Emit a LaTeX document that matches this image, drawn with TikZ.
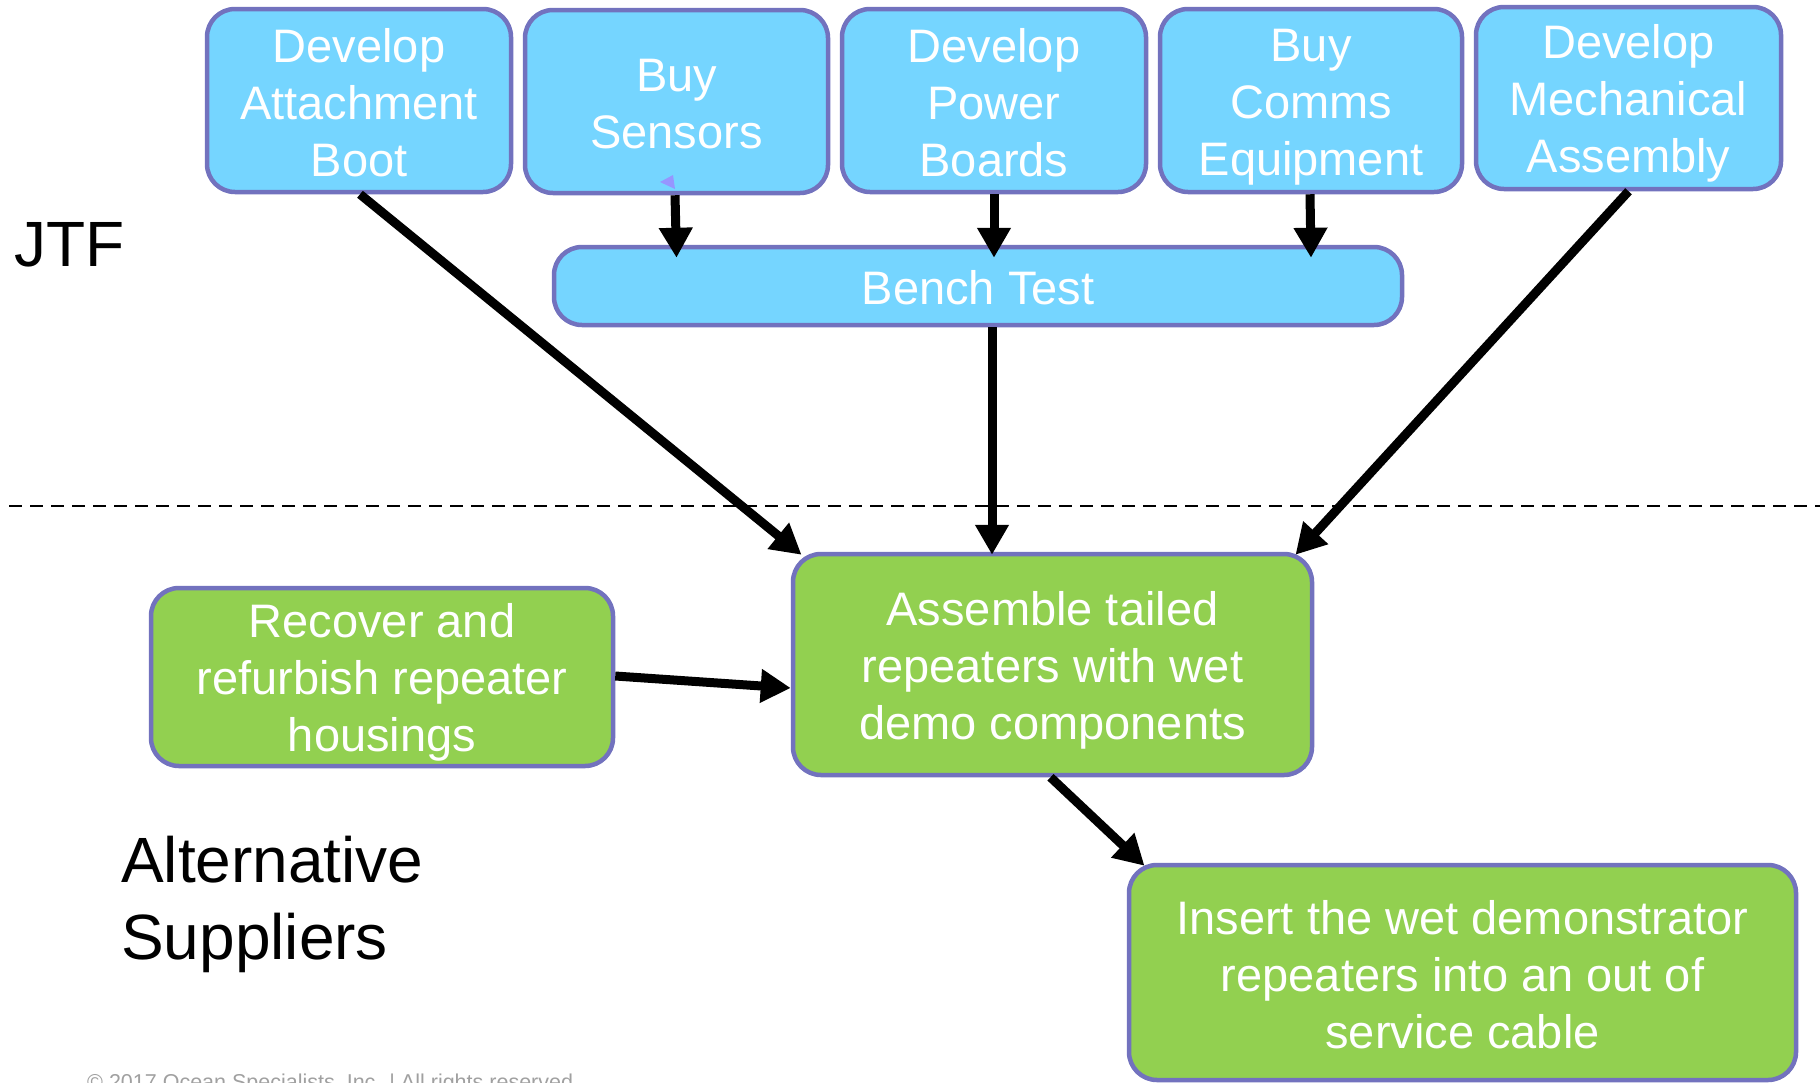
\documentclass[tikz,border=0pt]{standalone}
\usepackage{fontspec}
\setmainfont{Liberation Sans}
\usetikzlibrary{arrows.meta}
\definecolor{taskblue}{RGB}{117,213,255}
\definecolor{taskgreen}{RGB}{146,208,80}
\definecolor{taskedge}{RGB}{114,114,190}
\definecolor{notegrey}{RGB}{160,160,160}
% struts that fix the height of the first and the depth of the last text line
\newcommand\tskTop{\rule{0pt}{45pt}}
\newcommand\tskBot{\rule[-8pt]{0pt}{8pt}}
\tikzset{
  task/.style={draw=taskedge, line width=4.5pt, rounded corners=28pt,
    text=white, align=center, inner sep=0pt,
    font=\fontsize{47}{57}\selectfont},
  jtftask/.style={task, fill=taskblue},
  suptask/.style={task, fill=taskgreen},
  flow/.style={line width=9pt, -{Triangle[width=32pt,length=30pt]}},
  zone/.style={font=\fontsize{64}{77}\selectfont, align=left, anchor=base west, inner sep=0pt}
}
\begin{document}
\begin{tikzpicture}[x=1pt,y=-1pt]
  \useasboundingbox (0,0) rectangle (1820,1082);
  \clip (0,0) rectangle (1820,1082);

  % upper row of JTF tasks
  \node[jtftask, minimum width=304pt, minimum height=183pt] (boot) at (359,100.5)
    {\tskTop Develop\\Attachment\\Boot\tskBot};
  \node[jtftask, minimum width=303pt, minimum height=183pt] (sensors) at (676.5,101.5)
    {\tskTop Buy\\Sensors\tskBot};
  \node[jtftask, minimum width=304pt, minimum height=183pt] (power) at (994,100.5)
    {\tskTop Develop\\Power\\Boards\tskBot};
  \node[jtftask, minimum width=302pt, minimum height=183pt] (comms) at (1311,100.5)
    {\tskTop Buy\\Comms\\Equipment\tskBot};
  \node[jtftask, minimum width=305pt, minimum height=182pt] (mech) at (1628.5,98)
    {\tskTop Develop\\Mechanical\\Assembly\tskBot};

  \node[jtftask, minimum width=848pt, minimum height=78pt] (bench) at (978,286)
    {\tskTop Bench Test\tskBot};

  % small leftover marker under the sensors box
  \fill[color={rgb,255:red,150;green,150;blue,255}] (660,182) -- (673,175) -- (675,189) -- cycle;

  % suppliers' tasks
  \node[suptask, minimum width=519pt, minimum height=221pt] (assemble) at (1052.5,664.5)
    {\tskTop Assemble tailed\\repeaters with wet\\demo components\tskBot};
  \node[suptask, minimum width=462pt, minimum height=178pt] (recover) at (382,677)
    {\tskTop Recover and\\refurbish repeater\\housings\tskBot};
  \node[suptask, minimum width=667pt, minimum height=215pt] (insert) at (1462.5,972.5)
    {\tskTop Insert the wet demonstrator\\repeaters into an out of\\service cable\tskBot};

  % zone labels and divider
  \node[zone] (jtf) at (14,266) {JTF};
  \node[zone] (alt) at (121,959) {Alternative\\Suppliers};
  \coordinate (divL) at (9,506);
  \coordinate (divR) at (1820,506);
  \draw[line width=2.5pt, dash pattern=on 13pt off 8pt] (divL) -- (divR);

  % connectors
  \draw[flow] ([xshift=1pt]boot.south) -- ([xshift=-251pt,yshift=-3pt]assemble.north);
  \draw[flow] ([xshift=-1.5pt]sensors.south) -- ([yshift=-13pt]bench.north -| sensors.south);
  \draw[flow] (power.south) -- ([yshift=-13pt]bench.north -| power.south);
  \draw[flow] ([xshift=-1pt]comms.south) -- ([yshift=-13pt]bench.north -| comms.south);
  \draw[flow] ([xshift=14pt]bench.south) -- ([xshift=14pt,yshift=-3pt]bench.south |- assemble.north);
  \draw[flow] (mech.south) -- ([xshift=243pt,yshift=-3pt]assemble.north);
  \draw[flow] ([yshift=1pt]recover.east) -- ([yshift=-23.5pt]assemble.west);
  \draw[flow] ([xshift=-2pt]assemble.south) -- ([xshift=-318pt,yshift=-3pt]insert.north);

  \node[text=notegrey, font=\fontsize{21.5}{25}\selectfont, anchor=base west, inner sep=0pt]
    (copy) at (87,1089) {© 2017 Ocean Specialists, Inc. | All rights reserved.};
\end{tikzpicture}
\end{document}
